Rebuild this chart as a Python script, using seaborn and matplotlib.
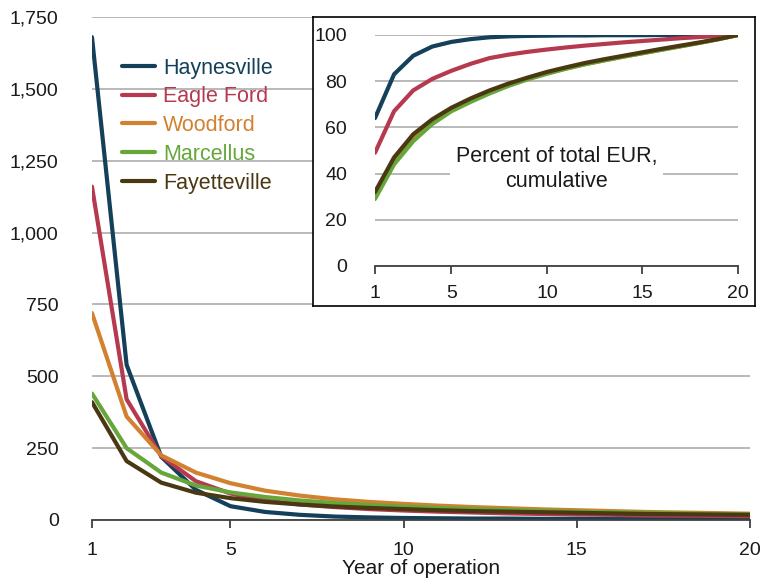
import numpy as np
import pandas as pd
import matplotlib
matplotlib.use("Agg")
import matplotlib.pyplot as plt
import seaborn as sns
from matplotlib.ticker import FuncFormatter

years = list(range(1, 21))
plays = ["Haynesville", "Eagle Ford", "Woodford", "Marcellus", "Fayetteville"]
colors = ["#14405a", "#b5394f", "#d28130", "#66a63a", "#4a3812"]

# annual production, main panel
haynesville = [1680, 540, 220, 105, 48, 28, 18, 12, 9, 7, 6, 5, 5, 4, 4, 3, 3, 3, 3, 3]
eagle_ford = [1160, 420, 222, 135, 92, 68, 54, 45, 38, 33, 29, 26, 23, 21, 19, 18, 16, 15, 14, 13]
woodford = [720, 360, 225, 165, 128, 102, 85, 72, 63, 56, 50, 45, 41, 37, 34, 31, 28, 26, 24, 22]
marcellus = [440, 250, 165, 120, 96, 80, 68, 59, 52, 47, 42, 38, 35, 32, 29, 27, 25, 23, 21, 20]
fayetteville = [410, 205, 130, 95, 76, 63, 54, 47, 42, 38, 34, 31, 29, 27, 25, 23, 21, 20, 19, 18]

# cumulative percent of EUR, inset
haynesville_cum = [64, 83, 91, 95, 97, 98.2, 99, 99.4, 99.6, 99.7, 99.8, 99.8, 99.9, 99.9, 99.9, 100, 100, 100, 100, 100]
eagle_ford_cum = [49, 67, 76, 81, 84.5, 87.5, 90, 91.5, 92.7, 93.7, 94.6, 95.4, 96.1, 96.8, 97.4, 98, 98.6, 99.1, 99.6, 100]
woodford_cum = [31, 46, 56, 62.5, 67.5, 71.5, 75, 78.3, 81, 83.4, 85.5, 87.4, 89, 90.6, 92.1, 93.6, 95.1, 96.6, 98.2, 100]
marcellus_cum = [29, 44, 54, 61.5, 67, 71, 74.7, 78, 80.8, 83.2, 85.4, 87.3, 89, 90.6, 92.1, 93.6, 95.1, 96.6, 98.2, 100]
fayetteville_cum = [32, 47, 57, 63.5, 68.5, 72.5, 76, 79, 81.6, 84, 86, 87.9, 89.5, 91, 92.5, 94, 95.4, 96.8, 98.3, 100]

annual = [haynesville, eagle_ford, woodford, marcellus, fayetteville]
cumulative = [haynesville_cum, eagle_ford_cum, woodford_cum, marcellus_cum, fayetteville_cum]

df = pd.DataFrame({
    "year": years * len(plays),
    "play": [p for p in plays for _ in years],
    "annual": sum(annual, []),
    "cum": sum(cumulative, []),
})

sns.set_style("white")
plt.rcParams["font.family"] = ["Liberation Sans", "DejaVu Sans"]
palette = dict(zip(plays, colors))
grid_c = "#a6a6a6"
spine_c = "#404040"
text_c = "#1a1a1a"

fig = plt.figure(figsize=(7.62, 5.81), dpi=100)

# main panel
ax = fig.add_axes([0.1207, 0.105, 0.8635, 0.8657])
sns.lineplot(data=df, x="year", y="annual", hue="play", palette=palette,
             linewidth=3, ax=ax, legend=True)
ax.set_xlim(1, 20)
ax.set_ylim(0, 1750)
ax.set_xticks([1, 5, 10, 15, 20])
ax.set_yticks(range(0, 1751, 250))
ax.yaxis.set_major_formatter(FuncFormatter(lambda v, p: f"{int(v):,}"))
ax.grid(axis="y", color=grid_c, linewidth=1.1)
ax.set_axisbelow(True)
for s in ["top", "right", "left"]:
    ax.spines[s].set_visible(False)
ax.spines["bottom"].set_color(spine_c)
ax.spines["bottom"].set_linewidth(1.3)
ax.tick_params(axis="x", direction="out", length=6, width=1.3, color=spine_c,
               labelsize=14, labelcolor=text_c, pad=10, bottom=True)
ax.tick_params(axis="y", length=0, labelsize=14, labelcolor=text_c, pad=24)
ax.set_xlabel("Year of operation", fontsize=15, color=text_c, labelpad=0)
ax.set_ylabel("")

leg = ax.legend(loc="upper left", bbox_to_anchor=(0.016, 0.958), frameon=False,
                fontsize=15.5, handlelength=1.55, handletextpad=0.35,
                labelspacing=0.36, labelcolor="linecolor")
for h in leg.get_lines():
    h.set_linewidth(3)

# inset frame
frame = fig.add_axes([0.4108, 0.4733, 0.5800, 0.4974])
frame.set_xticks([])
frame.set_yticks([])
frame.set_facecolor("white")
for s in frame.spines.values():
    s.set_color("black")
    s.set_linewidth(1.2)

# inset panel
ins = fig.add_axes([0.4921, 0.5422, 0.4764, 0.3976])
ins.patch.set_alpha(0)
sns.lineplot(data=df, x="year", y="cum", hue="play", palette=palette,
             linewidth=3, ax=ins, legend=False)
ins.set_xlim(1, 20)
ins.set_ylim(0, 100)
ins.set_xticks([1, 5, 10, 15, 20])
ins.set_yticks(range(0, 101, 20))
ins.grid(axis="y", color=grid_c, linewidth=1.1)
ins.set_axisbelow(True)
for s in ["top", "right", "left"]:
    ins.spines[s].set_visible(False)
ins.spines["bottom"].set_color(spine_c)
ins.spines["bottom"].set_linewidth(1.3)
ins.tick_params(axis="x", direction="out", length=6, width=1.3, color=spine_c,
                labelsize=14, labelcolor=text_c, pad=8, bottom=True)
ins.tick_params(axis="y", length=0, labelsize=14, labelcolor=text_c, pad=20)
ins.set_xlabel("")
ins.set_ylabel("")
ins.text(10.5, 42, "Percent of total EUR,\ncumulative", ha="center", va="center",
         fontsize=15.5, color=text_c, linespacing=1.3,
         bbox=dict(facecolor="white", edgecolor="none", pad=4))

fig.savefig("out.png", dpi=100)
